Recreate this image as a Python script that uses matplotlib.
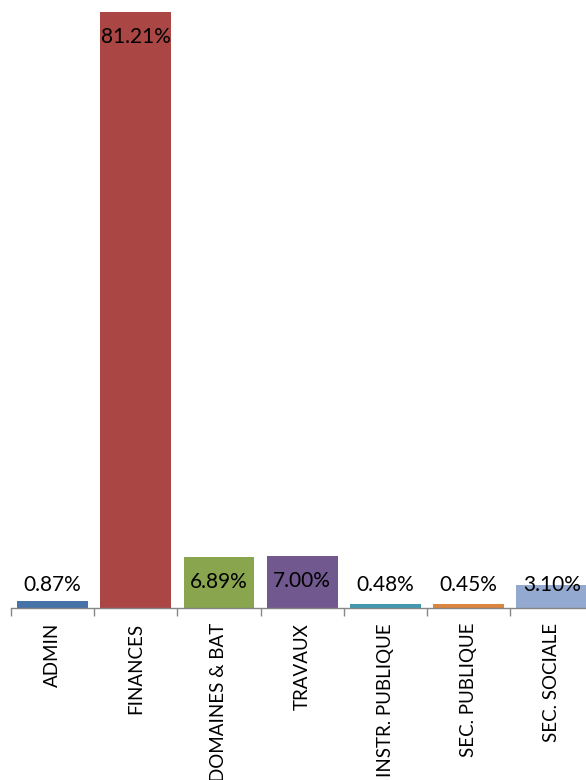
import matplotlib
matplotlib.use("Agg")
import matplotlib.pyplot as plt
import numpy as np

categories = ["ADMIN", "FINANCES", "DOMAINES & BAT", "TRAVAUX",
              "INSTR. PUBLIQUE", "SEC. PUBLIQUE", "SEC. SOCIALE"]
values = [0.87, 81.21, 6.89, 7.00, 0.48, 0.45, 3.10]
labels = ["0.87%", "81.21%", "6.89%", "7.00%", "0.48%", "0.45%", "3.10%"]
colors = ["#4572A7", "#AA4643", "#89A54E", "#71588F", "#4198AF", "#DB843D", "#93A9CF"]

plt.rcParams['font.family'] = ['Lato', 'DejaVu Sans']

W, H = 586, 780
fig = plt.figure(figsize=(W / 100, H / 100), dpi=100)
left = 11 / W
right = 593.4 / W
bottom = 1 - 607.7 / H
ax = fig.add_axes([left, bottom, right - left, 1 - bottom])

x = np.arange(len(categories))
ax.bar(x, values, width=0.85, color=colors, zorder=2)
ax.set_xlim(-0.5, len(categories) - 0.5)
ymax = 607.7 / (595.7 / 81.21)
ax.set_ylim(0, ymax)

px = ymax / 607.7
for xi, v, lab in zip(x, values, labels):
    y = max(v - 25 * px, 22.5 * px)
    ax.text(xi, y, lab, ha="center", va="center", fontsize=15, color="#000000", zorder=3)

for s in ["top", "right", "left"]:
    ax.spines[s].set_visible(False)
ax.spines["bottom"].set_color("#868686")
ax.spines["bottom"].set_linewidth(1.0)
ax.set_yticks([])
ax.set_xticks(x)
ax.set_xticklabels(categories, rotation=90, fontsize=13.5)
ax.tick_params(axis="x", which="major", length=0, pad=11)
ax.set_xticks(np.arange(-0.5, len(categories), 1.0), minor=True)
ax.tick_params(axis="x", which="minor", length=6, color="#868686", width=1.0, direction="out")

fig.savefig("out.png", dpi=100)
